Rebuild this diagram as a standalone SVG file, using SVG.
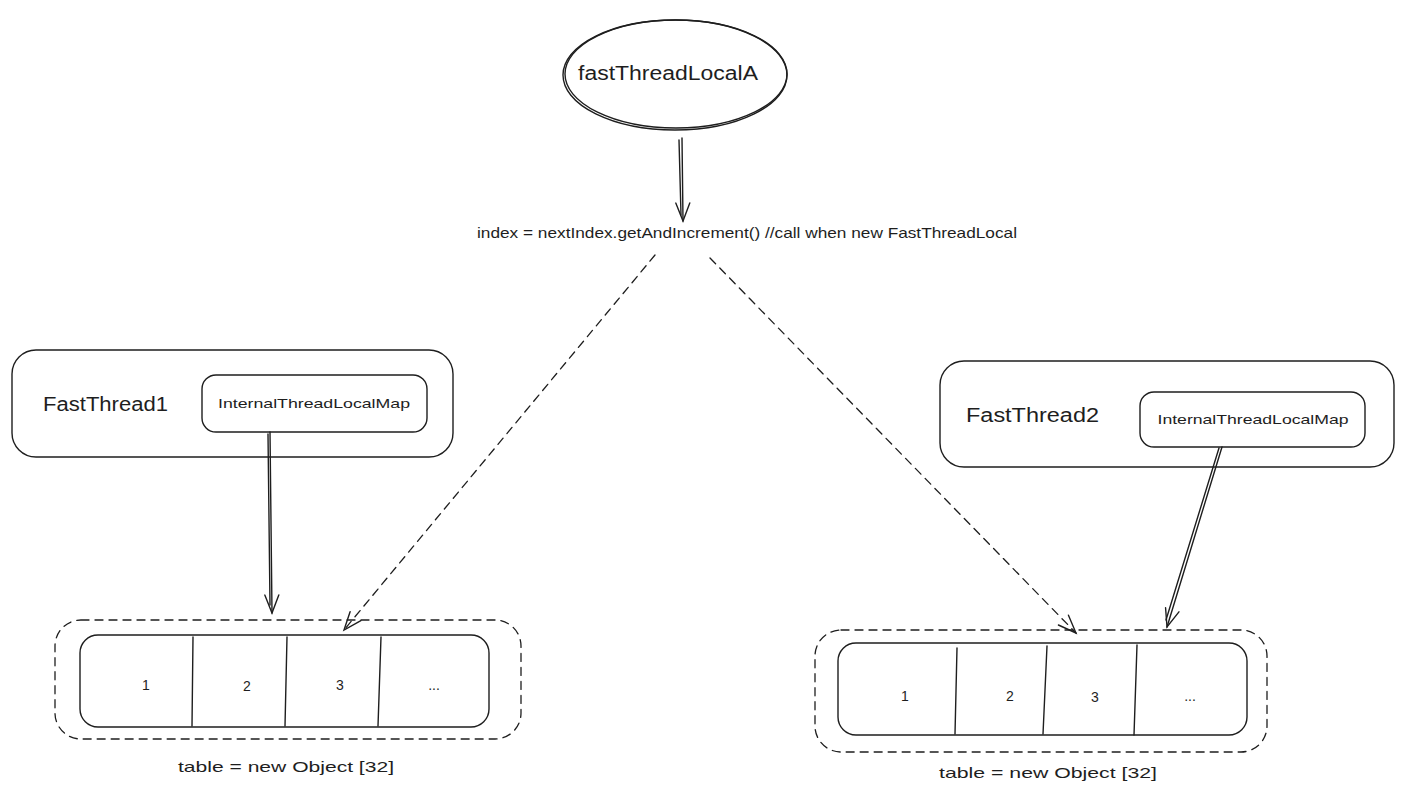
<svg xmlns="http://www.w3.org/2000/svg" width="1403" height="793" viewBox="0 0 1403 793">
<defs>
<style>
.s{fill:none;stroke:#1e1e1e;stroke-width:1.4;stroke-linecap:round;stroke-linejoin:round}
.d{fill:none;stroke:#1e1e1e;stroke-width:1.3;stroke-dasharray:8 6;stroke-linecap:round}
.t{font-family:"Liberation Sans",Arial,sans-serif;fill:#1e1e1e}
</style>
<marker id="ah" markerWidth="24" markerHeight="24" viewBox="-20 -12 24 24" refX="0" refY="0" orient="auto" markerUnits="userSpaceOnUse">
<path d="M-18,-7 L0,0 L-18,7" fill="none" stroke="#1e1e1e" stroke-width="1.4" stroke-linecap="round"/>
</marker>
</defs>
<rect width="1403" height="793" fill="#ffffff"/>

<g id="fastThreadLocalA">
<ellipse class="s" cx="675" cy="75" rx="112" ry="55"/>
<ellipse class="s" cx="676" cy="74" rx="111" ry="54" stroke-width="0.8"/>
<text class="t" x="668" y="80" font-size="20" text-anchor="middle" textLength="180" lengthAdjust="spacingAndGlyphs">fastThreadLocalA</text>
</g>

<g id="indexLabel">
<text class="t" x="747" y="238" font-size="15" text-anchor="middle" textLength="540" lengthAdjust="spacingAndGlyphs">index = nextIndex.getAndIncrement() //call when new FastThreadLocal</text>
</g>

<g id="FastThread1">
<rect class="s" x="12" y="350" width="441" height="107" rx="24"/>
<rect class="s" x="202" y="375" width="225" height="57" rx="14"/>
<text class="t" x="43" y="411" font-size="20" textLength="125" lengthAdjust="spacingAndGlyphs">FastThread1</text>
<text class="t" x="314" y="408" font-size="13" text-anchor="middle" textLength="192" lengthAdjust="spacingAndGlyphs">InternalThreadLocalMap</text>
</g>

<g id="FastThread2">
<rect class="s" x="940" y="361" width="454" height="106" rx="24"/>
<rect class="s" x="1140" y="392" width="225" height="55" rx="14"/>
<text class="t" x="966" y="422" font-size="20" textLength="133" lengthAdjust="spacingAndGlyphs">FastThread2</text>
<text class="t" x="1253" y="424" font-size="13" text-anchor="middle" textLength="191" lengthAdjust="spacingAndGlyphs">InternalThreadLocalMap</text>
</g>

<g id="table1">
<rect class="d" x="55" y="620" width="466" height="119" rx="26"/>
<rect class="s" x="80" y="635" width="409" height="92" rx="18"/>
<path class="s" d="M193,637 L192,726 M287,637 L285,726 M381,637 L378,726"/>
<text class="t" x="146" y="690" font-size="14" text-anchor="middle">1</text>
<text class="t" x="247" y="691" font-size="14" text-anchor="middle">2</text>
<text class="t" x="340" y="690" font-size="14" text-anchor="middle">3</text>
<text class="t" x="434" y="690" font-size="14" text-anchor="middle">...</text>
<text class="t" x="286" y="772" font-size="15" text-anchor="middle" textLength="216" lengthAdjust="spacingAndGlyphs">table = new Object [32]</text>
</g>

<g id="table2">
<rect class="d" x="815" y="630" width="452" height="122" rx="26"/>
<rect class="s" x="838" y="643" width="409" height="92" rx="18"/>
<path class="s" d="M957,648 L955,734 M1047,646 L1043,734 M1137,645 L1134,735"/>
<text class="t" x="905" y="701" font-size="14" text-anchor="middle">1</text>
<text class="t" x="1010" y="701" font-size="14" text-anchor="middle">2</text>
<text class="t" x="1095" y="702" font-size="14" text-anchor="middle">3</text>
<text class="t" x="1190" y="701" font-size="14" text-anchor="middle">...</text>
<text class="t" x="1048" y="778" font-size="15" text-anchor="middle" textLength="218" lengthAdjust="spacingAndGlyphs">table = new Object [32]</text>
</g>

<g id="connectors">
<path class="s" d="M682,138 L683,221" marker-end="url(#ah)"/>
<path class="s" d="M679,140 L681,215" stroke-width="0.8"/>
<path class="s" d="M270,432 L272,613" marker-end="url(#ah)"/>
<path class="s" d="M268,434 L270,605" stroke-width="0.8"/>
<path class="s" d="M1222,447 L1167,627" marker-end="url(#ah)"/>
<path class="s" d="M1219,448 L1166,620" stroke-width="0.8"/>
<path class="d" d="M655,255 L344,630" marker-end="url(#ah)"/>
<path class="d" d="M710,258 L1076,633" marker-end="url(#ah)"/>
</g>
</svg>
